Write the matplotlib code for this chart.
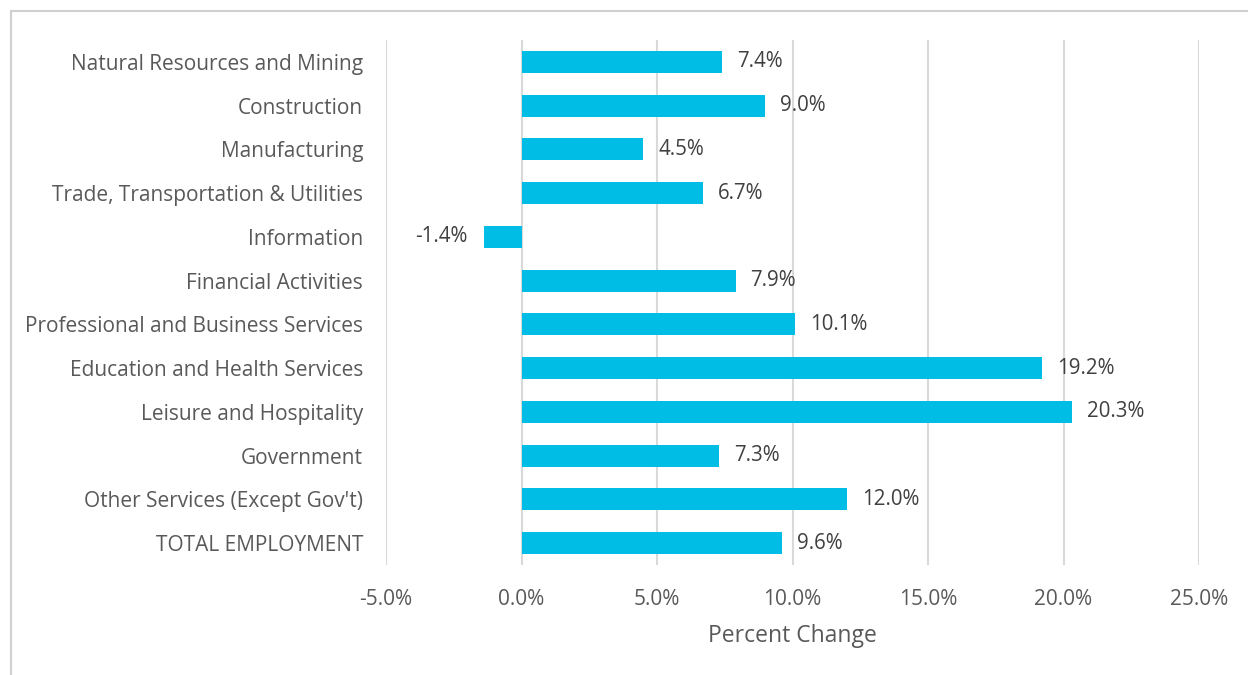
import matplotlib
matplotlib.use("Agg")
import matplotlib.pyplot as plt
from matplotlib.patches import Rectangle

categories = [
    "Natural Resources and Mining",
    "Construction",
    "Manufacturing",
    "Trade, Transportation & Utilities",
    "Information",
    "Financial Activities",
    "Professional and Business Services",
    "Education and Health Services",
    "Leisure and Hospitality",
    "Government",
    "Other Services (Except Gov't)",
    "TOTAL EMPLOYMENT",
]
values = [7.4, 9.0, 4.5, 6.7, -1.4, 7.9, 10.1, 19.2, 20.3, 7.3, 12.0, 9.6]
xticks = [-5, 0, 5, 10, 15, 20, 25]

plt.rcParams['font.family'] = ['Open Sans', 'DejaVu Sans']
W, H = 1248, 675
fig = plt.figure(figsize=(W / 100, H / 100), dpi=100)
ax = fig.add_axes([386 / W, 1 - 565 / H, (1199 - 386) / W, (565 - 40) / H])

txt = "#595959"
bar_color = "#00BDE6"
ypos = list(range(len(categories)))
ax.barh(ypos, values, height=0.5, color=bar_color, zorder=3)
ax.set_ylim(len(categories) - 0.5, -0.5)
ax.set_xlim(-5, 25)
ax.set_xticks(xticks)
ax.set_xticklabels([f"{t:.1f}%" for t in xticks], color=txt, fontsize=15)
ax.set_yticks(ypos)
ax.set_yticklabels(categories, color=txt, fontsize=15)
ax.tick_params(axis='both', length=0)
ax.tick_params(axis='y', pad=16.5)
ax.tick_params(axis='x', pad=17)
ax.grid(axis='x', color="#D9D9D9", linewidth=1.5, zorder=0)
for s in ax.spines.values():
    s.set_visible(False)
ax.set_xlabel("Percent Change", color=txt, fontsize=16.5, labelpad=10)

for y, v in zip(ypos, values):
    if v >= 0:
        ax.annotate(f"{v:.1f}%", (v, y), xytext=(15, 0), textcoords="offset pixels",
                    ha="left", va="center", color="#404040", fontsize=14.8)
    else:
        ax.annotate(f"{v:.1f}%", (v, y), xytext=(-16, 0), textcoords="offset pixels",
                    ha="right", va="center", color="#404040", fontsize=14.8)

frame = Rectangle((11 / W, -0.05), 1.2, 1 - 11 / H + 0.05, transform=fig.transFigure,
                  fill=False, edgecolor="#D0D0D0", linewidth=1.5)
fig.patches.append(frame)

fig.savefig("out.png", dpi=100, facecolor="white")
